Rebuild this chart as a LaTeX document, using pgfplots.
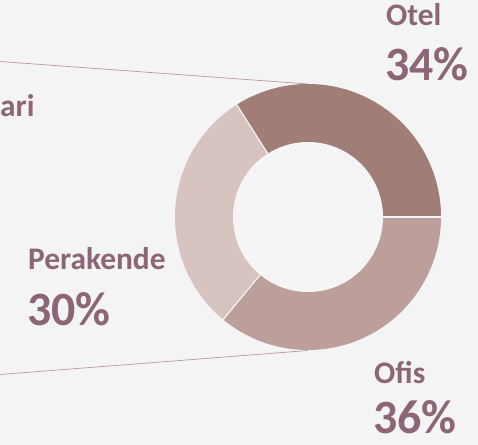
\documentclass[border=0pt]{standalone}
\usepackage{fontspec}
\setmainfont{Carlito}
\usepackage{pgfplots}
\pgfplotsset{compat=1.18}
\definecolor{bg}{HTML}{F4F4F4}
\definecolor{hole}{HTML}{F6F5F6}
\definecolor{otel}{HTML}{A07D77}
\definecolor{ofis}{HTML}{BC9F9B}
\definecolor{perak}{HTML}{D7C3C0}
\definecolor{txt}{HTML}{8C6677}
\definecolor{conn}{HTML}{B8979C}

% shares (percent), drawn counterclockwise from 3 o'clock
\def\vOtel{34}
\def\vPer{30}
\def\vOfis{36}
\pgfmathsetmacro\aA{\vOtel*3.6}
\pgfmathsetmacro\aB{(\vOtel+\vPer)*3.6}

\begin{document}
\begin{tikzpicture}[
    lbl/.style={anchor=base west, text=txt, inner sep=0pt, font=\bfseries\fontsize{31.5}{36}\selectfont},
    pct/.style={anchor=base west, text=txt, inner sep=0pt, font=\bfseries\fontsize{48}{54}\selectfont},
]
\useasboundingbox (0,0) rectangle (478bp,445bp);
\clip (0,0) rectangle (478bp,445bp);
\fill[bg] (0,0) rectangle (478bp,445bp);
\begin{axis}[
    at={(0,0)}, anchor=south west,
    scale only axis, width=478bp, height=445bp,
    xmin=0, xmax=478, ymin=0, ymax=445,
    y dir=reverse,
    hide axis, clip=false,
]
% connector lines
\addplot[conn, line width=0.7bp] coordinates {(0,61.5) (308,84)};
\addplot[conn, line width=0.7bp] coordinates {(0,374.5) (308,350.5)};

% donut
\fill[otel] (axis cs:308,217) -- ++(0:133bp) arc[start angle=0,end angle=\aA,radius=133bp] -- cycle;
\fill[perak] (axis cs:308,217) -- ++(\aA:133bp) arc[start angle=\aA,end angle=\aB,radius=133bp] -- cycle;
\fill[ofis] (axis cs:308,217) -- ++(\aB:133bp) arc[start angle=\aB,end angle=360,radius=133bp] -- cycle;
\draw[bg, line width=1.2bp] (axis cs:308,217) -- ++(0:134bp);
\draw[bg, line width=1.2bp] (axis cs:308,217) -- ++(\aA:134bp);
\draw[bg, line width=1.2bp] (axis cs:308,217) -- ++(\aB:134bp);
\fill[hole] (axis cs:308,217) circle[radius=75bp];

% labels
\node[lbl] at (axis cs:0,116.5) {ari};
\node[lbl] at (axis cs:386,26) {Otel};
\node[pct] at (axis cs:385,81) {34\%};
\node[lbl] at (axis cs:28,269) {Perakende};
\node[pct] at (axis cs:27,325) {30\%};
\node[lbl] at (axis cs:374,383) {Ofis};
\node[pct] at (axis cs:373,433) {36\%};
\end{axis}
\end{tikzpicture}
\end{document}
